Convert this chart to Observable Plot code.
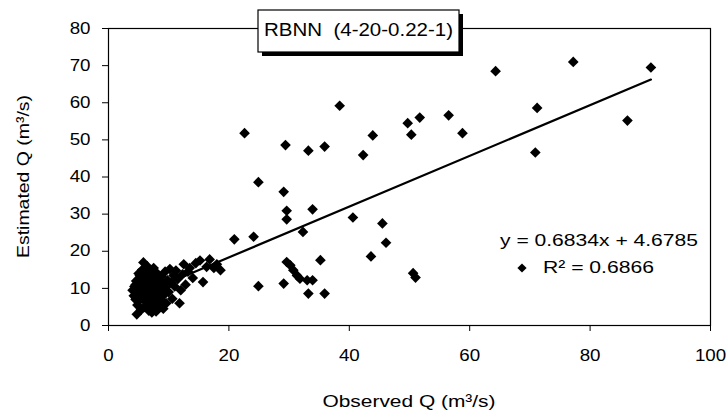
<!DOCTYPE html>
<html>
<head>
<meta charset="utf-8">
<script src="https://cdn.jsdelivr.net/npm/d3@7"></script>
<script src="https://cdn.jsdelivr.net/npm/@observablehq/plot@0.6"></script>
<style>
  html, body { margin: 0; padding: 0; background: #fff; }
  #chart { width: 728px; height: 416px; position: relative; }
</style>
</head>
<body>
<div id="chart"></div>
<script>
// ---- data ----
const observed = [
  4.0, 4.2, 4.3, 4.5, 4.6, 4.7, 4.8, 4.9, 5.0, 5.0, 5.2, 5.3, 5.4, 5.5, 5.6, 5.7, 5.8, 5.8, 5.9, 6.0,
  6.1, 6.2, 6.3, 6.3, 6.4, 6.5, 6.6, 6.7, 6.8, 6.9, 7.0, 7.0, 7.1, 7.2, 7.3, 7.4, 7.5, 7.6, 7.7, 7.8,
  7.9, 8.0, 8.1, 8.2, 8.3, 8.4, 8.5, 8.6, 8.8, 8.9, 9.0, 9.1, 9.2, 9.4, 9.5, 9.6, 9.8, 10.0, 10.2, 10.4,
  10.6, 10.8, 11.0, 11.2, 11.5, 11.8, 12.0, 12.3, 12.5, 12.8, 13.2, 13.5, 14.0, 14.5, 15.2, 15.7, 16.3, 16.8, 17.5, 18.0,
  6.0, 5.5, 6.5, 7.5, 8.0, 6.8, 7.2, 5.0, 4.5, 6.2,
  22.6, 38.4, 29.4, 33.2, 35.9, 43.9, 42.3, 49.7, 51.7, 50.3, 56.5, 58.8, 24.9, 29.1, 29.6, 29.6, 33.9, 40.6, 45.5, 46.1,
  32.3, 20.9, 24.1, 18.6, 29.6, 30.2, 30.7, 31.3, 31.8, 33.0, 33.9, 35.2, 43.6, 24.9, 29.1, 33.2, 35.9, 50.6, 51.0,
  64.3, 77.2, 90.1, 71.2, 86.2, 70.9
];
const estimated = [
  9.5, 8.0, 10.5, 7.0, 12.0, 3.0, 5.5, 9.0, 11.2, 6.5, 13.5, 8.2, 4.2, 10.0, 15.0, 7.3, 17.0, 12.3, 9.3, 5.0,
  11.0, 14.0, 8.0, 6.2, 16.0, 10.3, 12.8, 4.0, 9.0, 14.8, 7.0, 11.8, 5.5, 13.2, 9.8, 8.3, 15.5, 6.0, 10.8, 12.5,
  3.8, 8.8, 14.0, 7.2, 10.0, 5.2, 12.0, 9.0, 13.2, 6.6, 11.0, 4.5, 8.2, 14.5, 10.3, 6.0, 12.2, 9.0, 15.2, 11.5,
  7.2, 13.5, 10.5, 14.8, 12.5, 6.0, 9.5, 13.8, 16.5, 11.0, 14.5, 15.5, 12.8, 16.8, 17.5, 11.7, 15.8, 17.8, 15.5, 16.5,
  13.0, 8.8, 7.5, 4.8, 10.8, 11.5, 3.5, 14.0, 11.0, 9.8,
  51.8, 59.2, 48.6, 47.1, 48.2, 51.2, 45.9, 54.5, 56.0, 51.4, 56.6, 51.8, 38.6, 36.0, 30.9, 28.6, 31.3, 29.1, 27.5, 22.3,
  25.2, 23.2, 23.9, 14.9, 17.1, 16.2, 14.9, 13.5, 12.6, 12.2, 12.2, 17.6, 18.6, 10.6, 11.3, 8.6, 8.6, 14.1, 12.9,
  68.5, 71.0, 69.5, 58.6, 55.2, 46.6
];
const slope = 0.6834;
const intercept = 4.6785;
const rSquared = 0.6866;
const xTicks = [0, 20, 40, 60, 80, 100];
const yTicks = [0, 10, 20, 30, 40, 50, 60, 70, 80];
const xTitle = "Observed Q (m³/s)";
const yTitle = "Estimated Q (m³/s)";
const chartTitle = "RBNN\u00a0 (4-20-0.22-1)";

// ---- derived tables ----
const points = observed.map((x, i) => ({x, y: estimated[i]}));
const trend = d3.extent(observed).map(x => ({x, y: slope * x + intercept}));

const FONT = '"Liberation Sans", Arial, Helvetica, sans-serif';

const chart = Plot.plot({
  width: 728,
  height: 416,
  marginLeft: 108,
  marginRight: 18,
  marginTop: 28,
  marginBottom: 91,
  style: {fontFamily: FONT, fontSize: "16px", color: "#000", background: "#fff", overflow: "visible"},
  x: {domain: [0, 100]},
  y: {domain: [0, 80]},
  marks: [
    Plot.axisX({ticks: xTicks, tickSize: 6, tickPadding: 18.5, label: null, tickFormat: d => String(d)}),
    Plot.axisY({ticks: yTicks, tickSize: 6, tickPadding: 12, label: null, tickFormat: d => String(d)}),
    Plot.frame({stroke: "#000", strokeWidth: 1.2}),
    Plot.line(trend, {x: "x", y: "y", stroke: "#000", strokeWidth: 2.2}),
    Plot.dot(points, {x: "x", y: "y", symbol: "diamond2", r: 4.8, fill: "#000", stroke: "none"})
  ]
});
document.getElementById("chart").appendChild(chart);

// stretch tick labels horizontally like the reference
chart.querySelectorAll('g[aria-label="x-axis tick label"] text, g[aria-label="y-axis tick label"] text').forEach(t => {
  const L = t.getComputedTextLength();
  t.setAttribute("textLength", (L * 1.17).toFixed(2));
  t.setAttribute("lengthAdjust", "spacingAndGlyphs");
});

const sx = chart.scale("x"), sy = chart.scale("y");
const svg = d3.select(chart);
const xMid = (sx.apply(0) + sx.apply(100)) / 2;
const yMid = (sy.apply(0) + sy.apply(80)) / 2;

function addText(str, x, y, size, len, opts = {}) {
  const t = svg.append("text")
    .attr("x", x).attr("y", y)
    .attr("text-anchor", opts.anchor || "middle")
    .attr("font-family", FONT)
    .attr("font-size", size)
    .attr("fill", "#000")
    .style("white-space", "pre")
    .text(str);
  if (opts.rotate) t.attr("transform", `rotate(${opts.rotate},${x},${y})`);
  if (len) t.attr("textLength", len).attr("lengthAdjust", "spacingAndGlyphs");
  return t;
}

// axis titles
addText(xTitle, xMid, 407, 17, 173);
addText(yTitle, 29, yMid + 0, 17, 163, {rotate: -90});

// title box with shadow
const bx = 258, by = 10, bw = 201, bh = 42;
svg.append("rect").attr("x", bx + 4).attr("y", by + 4).attr("width", bw).attr("height", bh).attr("fill", "#000");
svg.append("rect").attr("x", bx).attr("y", by).attr("width", bw).attr("height", bh)
  .attr("fill", "#fff").attr("stroke", "#000").attr("stroke-width", 1.2);
addText(chartTitle, bx + bw / 2, 36, 18, 189);

// trendline equation + legend marker
addText(`y = ${slope}x + ${intercept}`, 599, 245.7, 17, 198);
addText(`R² = ${rSquared}`, 598.5, 272.7, 17, 111);
svg.append("path")
  .attr("d", d3.symbol(d3.symbolDiamond2, 54)())
  .attr("transform", "translate(522,268)")
  .attr("fill", "#000");
</script>
</body>
</html>
